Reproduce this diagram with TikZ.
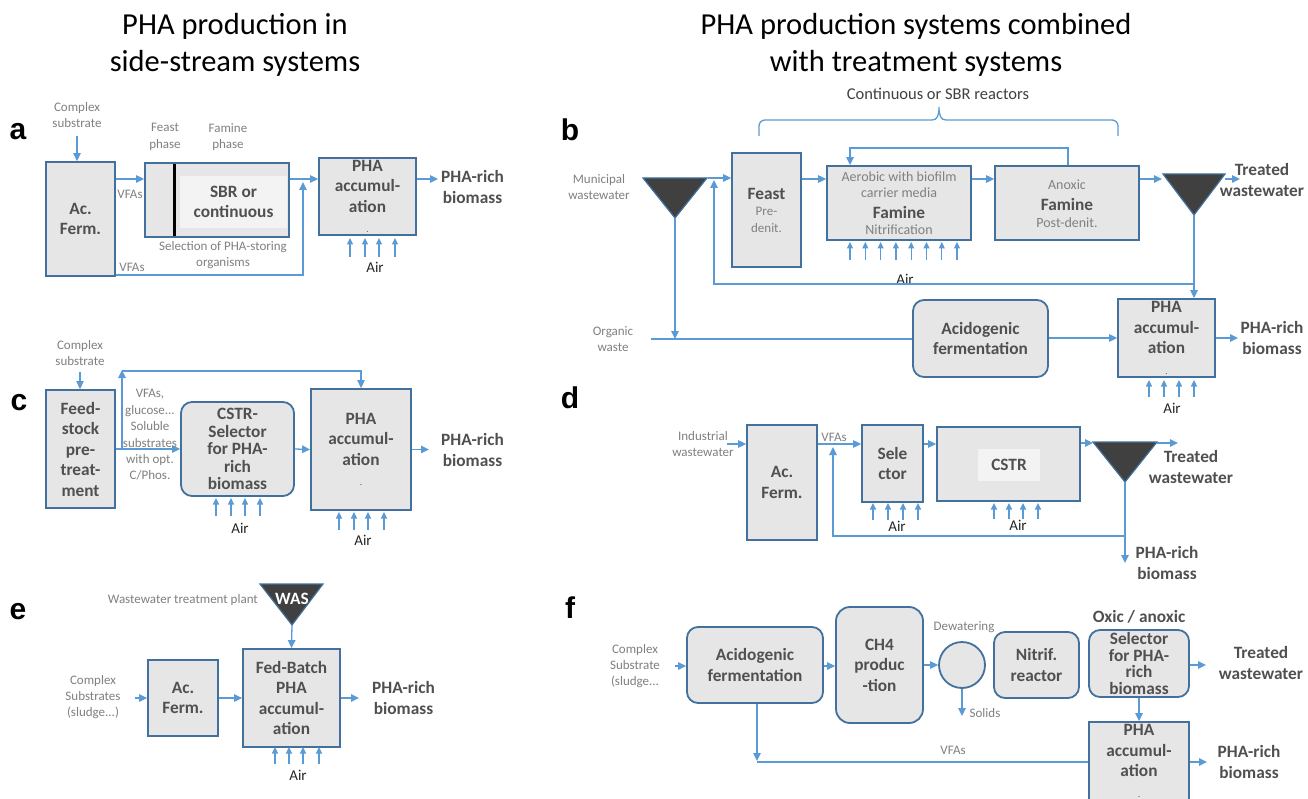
\documentclass[tikz,border=0pt]{standalone}
\usepackage{fontspec}
\setmainfont{Carlito}
\newfontfamily\arialf{Liberation Sans}
\usetikzlibrary{arrows.meta,calc}
\definecolor{boxblue}{HTML}{41719C}
\definecolor{boxfill}{HTML}{E6E6E6}
\definecolor{innerf}{HTML}{F3F3F3}
\definecolor{lblue}{HTML}{5B9BD5}
\definecolor{ltext}{HTML}{808080}
\definecolor{dtext}{HTML}{505050}
\definecolor{trifill}{HTML}{404040}
\newcommand\bxf{\fontsize{17.3}{20.5}\selectfont\bfseries}
\newcommand\smf{\fontsize{13}{16.4}\selectfont}
\newcommand\mdf{\fontsize{14}{16}\selectfont}
\newcommand\airf{\fontsize{15}{16}\selectfont}
\newcommand\ttlf{\fontsize{30.5}{37}\selectfont}
\newcommand\pnlf{\arialf\fontsize{30}{32}\selectfont\bfseries}
\newcommand\airs[3]{\foreach \xx in {#1}{\draw[airr] (\xx,#2) -- (\xx,#3);}}
\tikzset{
  box/.style={draw=boxblue, fill=boxfill, line width=1.8pt, inner sep=0pt, align=center, font=\bxf, text=dtext},
  rbox/.style={box, rounded corners=11pt},
  ln/.style={draw=lblue, line width=1.3pt},
  arr/.style={ln, -{Triangle[length=8pt,width=7.5pt]}},
  airr/.style={draw=lblue, line width=1.2pt, -{Triangle[length=6.5pt,width=6pt]}},
  lbl/.style={font=\smf, text=ltext, align=center, inner sep=0pt},
  bt/.style={font=\bxf, text=dtext, align=center, inner sep=0pt},
  airl/.style={font=\airf, text=black!85, inner sep=0pt},
  pnl/.style={font=\pnlf, inner sep=0pt},
  tri/.style={fill=trifill, draw=boxblue, line width=1.2pt, line join=miter},
  ttl/.style={font=\ttlf, align=center, inner sep=0pt}
}
\begin{document}
\begin{tikzpicture}[x=1pt,y=-1pt]
\fill[white] (0,0) rectangle (1308,799);
\useasboundingbox (0,0) rectangle (1308,799);

% titles
\node[ttl] (t1title) at (235,45) {PHA production in\\side-stream systems};
\node[ttl] (t2title) at (916,45) {PHA production systems combined\\with treatment systems};

% ---------------- panel a
\node[pnl] (la) at (18,132) {a};
\node[lbl] (csa) at (77,115) {Complex\\substrate};
\node[box, minimum width=69, minimum height=114] (acfa) at (80.5,219) {Ac.\\Ferm.};
\draw[arr] ([yshift=-8pt]csa.south) -- (csa.south |- acfa.north);
\node[box, minimum width=144, minimum height=74] (sbr) at (217,200) {};
\node[fill=innerf, minimum width=107, minimum height=52, inner sep=0pt, font=\bxf, text=dtext, align=center] (sbri) at (233.5,202) {SBR or\\continuous};
\draw[line width=3pt, black] (174,164) -- (174,236);
\node[lbl] (fpa) at (165,137) {Feast\\phase};
\node[lbl] (fma) at (228,137) {Famine\\phase};
\draw[arr] (acfa.east |- 0,179) -- (sbr.west |- 0,179);
\node[lbl] (vfa1) at (130,194) {VFAs};
\node[lbl] (vfa2) at (132,267) {VFAs};
\node[lbl] (sela) at (223,255) {Selection of PHA-storing\\organisms};
\node[box, minimum width=97, minimum height=77] (phaa) at (367.5,196.5) {PHA\\accumul-\\ation\\{\fontsize{9}{20.5}\selectfont\mdseries .}};
\draw[arr] (acfa.east |- 0,275) -- (303,275) -- (303,182);
\draw[arr] (sbr.east |- 0,179) -- (phaa.west |- 0,179);
\airs{350,365,379,395}{257}{238}
\node[airl] (aira) at (375,267) {Air};
\draw[arr] (phaa.east |- 0,179) -- (438,179);
\node[bt, anchor=west] (oa) at (441,187) {PHA-rich\\biomass};

% ---------------- panel c
\node[pnl] (lc) at (19,403) {c};
\node[lbl] (csc) at (80,353) {Complex\\substrate};
\node[box, minimum width=69, minimum height=118] (feed) at (80.5,449) {Feed-\\stock\\pre-\\treat-\\ment};
\draw[arr] ([yshift=-6pt]csc.south) -- (csc.south |- feed.north);
\node[rbox, minimum width=113, minimum height=94, font=\fontsize{17.3}{17.5}\selectfont\bfseries] (cstrc) at (237.5,449) {CSTR-\\Selector\\for PHA-\\rich\\biomass};
\draw[arr] (feed.east) -- (cstrc.west);
\node[box, minimum width=100, minimum height=121] (phac) at (361,449.5) {PHA\\accumul-\\ation\\{\fontsize{9}{20.5}\selectfont\mdseries .}};
\draw[arr] (feed.east -| 122,0) -- (122,370);
\draw[arr] (122,371) -- (361,371) -- (phac.north);
\node[lbl] (vfc) at (150,435) {VFAs,\\glucose...\\Soluble\\substrates\\with opt.\\C/Phos.};
\draw[arr] (cstrc.east) -- (phac.west);
\airs{216,231,245,260}{516}{498}
\node[airl] (airc1) at (240,528) {Air};
\airs{339,354,368,384}{530}{512}
\node[airl] (airc2) at (363,540) {Air};
\draw[arr] (phac.east) -- (429,449.5);
\node[bt, anchor=west] (oc) at (441,450) {PHA-rich\\biomass};

% ---------------- panel e
\node[pnl] (le) at (18,612) {e};
\filldraw[tri] (260,584) -- (323,584) -- (292,625) -- cycle;
\node[font=\bxf, text=white, inner sep=0pt] (was) at (292,599) {WAS};
\coordinate (wasapex) at (292,625);
\node[lbl, anchor=east] (wtp) at (258,600) {Wastewater treatment plant};
\node[box, minimum width=97, minimum height=98] (fb) at (291.5,698) {Fed-Batch\\PHA\\accumul-\\ation};
\draw[arr] (wasapex) -- (fb.north);
\node[box, minimum width=70, minimum height=76] (acfe) at (183,698) {Ac.\\Ferm.};
\node[lbl] (cse) at (93,697) {Complex\\Substrates\\(sludge...)};
\draw[arr] (135,698) -- (acfe.west);
\draw[arr] (acfe.east) -- (fb.west);
\airs{275,289,303,319}{764}{747}
\node[airl] (aire) at (298,775) {Air};
\draw[arr] (fb.east) -- (359,698);
\node[bt, anchor=west] (oe) at (372,698) {PHA-rich\\biomass};

% ---------------- panel b
\node[pnl] (lb) at (570,130) {b};
\node[font=\fontsize{16.5}{18}\selectfont, text=black!75, inner sep=0pt] (cont) at (938,94) {Continuous or SBR reactors};
\draw[ln, rounded corners=6pt] (759,136) -- (759,120) -- (932,120);
\draw[ln] (932,120) .. controls (937,120) and (939,116) .. (939,107) .. controls (939,116) and (941,120) .. (946,120);
\draw[ln, rounded corners=6pt] (946,120) -- (1118,120) -- (1118,136);
\node[lbl] (muni) at (599,187) {Municipal\\wastewater};
\filldraw[tri] (643,178) -- (707,178) -- (675,218) -- cycle;
\coordinate (t1) at (675,218);
\node[box, minimum width=69, minimum height=114] (feast) at (766.5,210) {};
\node[bt] (feastt) at (766.5,194) {Feast};
\node[lbl] (feastd) at (766.5,220) {Pre-\\denit.};
\draw[arr] (708,178) -- (feast.west |- 0,178);
\node[box, minimum width=144, minimum height=74] (fam1) at (899,203) {};
\node[lbl, font=\mdf] (fam1a) at (899,185) {Aerobic with biofilm\\carrier media};
\node[bt] (fam1b) at (899,212) {Famine};
\node[lbl, font=\mdf] (fam1c) at (899,230) {Nitrification};
\draw[arr] (feast.east |- 0,179) -- (fam1.west |- 0,179);
\airs{850,865.3,880.6,895.9,911.2,926.5,941.8,957}{260}{242}
\node[airl] (airb1) at (905,279) {Air};
\node[box, minimum width=144, minimum height=74] (fam2) at (1067,203) {};
\node[lbl, font=\mdf] (fam2a) at (1067,185) {Anoxic};
\node[bt] (fam2b) at (1067,204) {Famine};
\node[lbl, font=\mdf] (fam2c) at (1067,223) {Post-denit.};
\draw[arr] (fam1.east |- 0,179) -- (fam2.west |- 0,179);
\draw[arr] (fam2.north -| 1068,0) -- (1068,148) -- (850,148) -- (fam1.north -| 850,0);
\filldraw[tri] (1163,174) -- (1225,174) -- (1194,215) -- cycle;
\coordinate (t2) at (1194,215);
\draw[arr] (fam2.east |- 0,179) -- (1162,179);
\draw[arr] (1225,179) -- (1240,179);
\node[bt] (trb) at (1262,180) {Treated\\wastewater};
\node[box, minimum width=97, minimum height=78] (phab) at (1166.5,338) {PHA\\accumul-\\ation\\{\fontsize{9}{20.5}\selectfont\mdseries .}};
\draw[arr] (t2) -- (phab.north -| t2);
\draw[arr] (1194,284) -- (714,284) -- (714,180);
\draw[arr] (t1) -- (675,339);
\node[lbl] (orgw) at (613,339) {Organic\\waste};
\node[rbox, minimum width=135, minimum height=77] (acidb) at (980.5,338.5) {Acidogenic\\fermentation};
\draw[ln] (651,339) -- (acidb.west |- 0,339);
\draw[arr] (acidb.east |- 0,338) -- (phab.west);
\airs{1149,1164,1179,1194}{397}{380}
\node[airl] (airb2) at (1172,408) {Air};
\draw[arr] (phab.east) -- (1238,338);
\node[bt] (ob) at (1272,338) {PHA-rich\\biomass};

% ---------------- panel d
\node[pnl] (ld) at (570,398) {d};
\node[lbl] (indw) at (703,444) {Industrial\\wastewater};
\node[box, minimum width=70, minimum height=115] (acfd) at (782,482.5) {Ac.\\Ferm.};
\draw[arr] (727,444) -- (acfd.west |- 0,444);
\node[box, minimum width=61, minimum height=77] (seld) at (892.5,463.5) {Sele\\ctor};
\node[lbl] (vfd) at (834,437) {VFAs};
\draw[arr] (acfd.east |- 0,444) -- (seld.west |- 0,444);
\node[box, minimum width=143, minimum height=74] (cstrd) at (1008.5,464) {};
\node[fill=innerf, minimum width=62, minimum height=32, inner sep=0pt, font=\bxf, text=dtext] (cstrdi) at (1009,465) {CSTR};
\draw[arr] (seld.east |- 0,444) -- (cstrd.west |- 0,444);
\airs{873,888,903,918}{520}{503}
\node[airl] (aird1) at (897,526) {Air};
\airs{994,1009,1023,1038}{519}{503}
\node[airl] (aird2) at (1018,525) {Air};
\filldraw[tri] (1093,442) -- (1157,442) -- (1125,482) -- cycle;
\coordinate (t3) at (1125,482);
\draw[arr] (cstrd.east |- 0,443) -- (1093,443);
\draw[arr] (1157,443) -- (1178,443);
\node[bt] (trd) at (1191,467) {Treated\\wastewater};
\draw[arr] (t3) -- (1125,563);
\draw[arr] (1125,536) -- (833,536) -- (833,447);
\node[bt] (od) at (1167,563) {PHA-rich\\biomass};

% ---------------- panel f
\node[pnl] (lf) at (570,608) {f};
\node[lbl] (csf) at (635,666) {Complex\\Substrate\\(sludge...};
\node[rbox, minimum width=136, minimum height=76] (acidf) at (755,665) {Acidogenic\\fermentation};
\draw[arr] (675,666) -- (acidf.west |- 0,666);
\node[rbox, rounded corners=14pt, minimum width=87, minimum height=116] (ch4) at (879.5,665) {CH4\\produc\\-tion};
\draw[arr] (acidf.east |- 0,666) -- (ch4.west |- 0,666);
\node[circle, draw=boxblue, fill=boxfill, line width=1.8pt, minimum size=46, inner sep=0pt] (dew) at (962,665) {};
\draw[arr] (ch4.east |- 0,665) -- (dew.west);
\node[lbl] (dewt) at (964,627) {Dewatering};
\draw[arr] (dew.south) -- (962,716);
\node[lbl] (sol) at (985,713) {Solids};
\node[rbox, minimum width=85, minimum height=66] (nit) at (1036.5,665) {Nitrif.\\reactor};
\node[bt] (oxic) at (1139,617) {Oxic / anoxic};
\node[rbox, minimum width=100, minimum height=67, font=\fontsize{17.3}{16.7}\selectfont\bfseries] (self) at (1139,663.5) {Selector\\for PHA-\\rich\\biomass};
\draw[arr] (self.east |- 0,665) -- (1206,665);
\node[bt] (trf) at (1261,663) {Treated\\wastewater};
\node[box, minimum width=100, minimum height=78] (phaf) at (1139,761) {PHA\\accumul-\\ation\\{\fontsize{9}{20.5}\selectfont\mdseries .}};
\draw[arr] (self.south) -- (phaf.north);
\draw[arr] (acidf.south -| 757,0) -- (757,761);
\draw[ln] (757,762) -- (phaf.west |- 0,762);
\node[lbl] (vff) at (953,750) {VFAs};
\draw[arr] (phaf.east |- 0,762) -- (1207,762);
\node[bt] (of) at (1249,762) {PHA-rich\\biomass};
\end{tikzpicture}
\end{document}
